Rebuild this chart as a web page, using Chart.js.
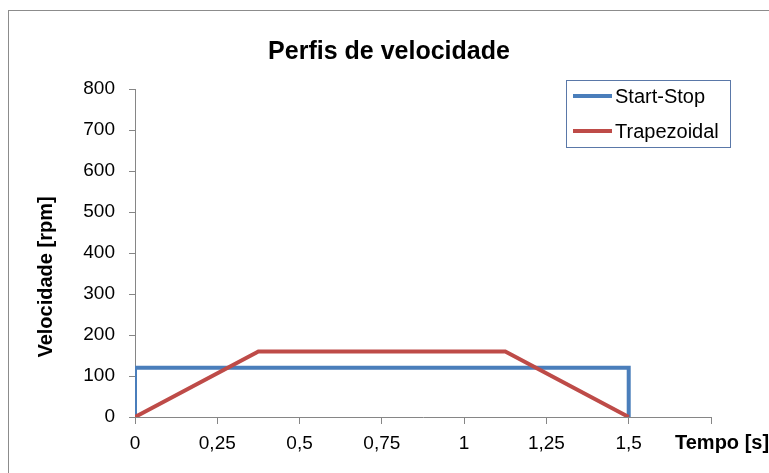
<!DOCTYPE html>
<html>
<head>
<meta charset="utf-8">
<script src="https://cdn.jsdelivr.net/npm/chart.js@4/dist/chart.umd.min.js"></script>
<style>
  html, body { margin: 0; padding: 0; background: #ffffff; }
  #wrap { width: 769px; height: 473px; position: relative; }
</style>
</head>
<body>
<div id="wrap"><canvas id="c" width="769" height="473"></canvas></div>
<script>
// Velocity profiles: time [s] vs speed [rpm]
const seriesNames = ['Start-Stop', 'Trapezoidal'];
const startStopTime = [0, 0, 1.5, 1.5];
const startStopSpeed = [0, 120, 120, 0];
const trapTime = [0, 0.375, 1.125, 1.5];
const trapSpeed = [0, 160, 160, 0];
const xTicks = [0, 0.25, 0.5, 0.75, 1, 1.25, 1.5, 1.75];
const yTicks = [0, 100, 200, 300, 400, 500, 600, 700, 800];

const FONT = "'Liberation Sans', Arial, sans-serif";
const AXIS = '#868686';
const BLUE = '#4A7EBB';
const RED = '#BE4B48';

function toPoints(xs, ys) { return xs.map((x, i) => ({ x: x, y: ys[i] })); }

// Outer frame of the chart
const framePlugin = {
  id: 'frame',
  beforeDraw(chart) {
    const ctx = chart.ctx;
    ctx.save();
    ctx.fillStyle = '#ffffff';
    ctx.fillRect(0, 0, chart.width, chart.height);
    ctx.strokeStyle = '#8c8c8c';
    ctx.lineWidth = 1;
    ctx.strokeRect(8.5, 10.5, chart.width + 20, chart.height + 20);
    ctx.restore();
  }
};

// Chart title, axis titles and boxed legend
const decorPlugin = {
  id: 'decor',
  afterDraw(chart) {
    const ctx = chart.ctx;
    ctx.save();
    ctx.fillStyle = '#000000';

    // chart title
    ctx.font = 'bold 25px ' + FONT;
    ctx.textAlign = 'center';
    ctx.textBaseline = 'alphabetic';
    ctx.fillText('Perfis de velocidade', 389, 59);

    ctx.font = 'bold 20px ' + FONT;
    // y-axis title
    ctx.save();
    ctx.translate(46, 277);
    ctx.rotate(-Math.PI / 2);
    ctx.textAlign = 'center';
    ctx.textBaseline = 'middle';
    ctx.fillText('Velocidade [rpm]', 0, 0);
    ctx.restore();
    // x-axis title
    ctx.textAlign = 'left';
    ctx.textBaseline = 'alphabetic';
    ctx.fillText('Tempo [s]', 675, 449);

    // legend box
    ctx.strokeStyle = '#5a78a8';
    ctx.lineWidth = 1;
    ctx.strokeRect(566.5, 80.5, 164, 67);
    ctx.font = '20px ' + FONT;
    ctx.textBaseline = 'middle';
    const rows = [96, 131];
    chart.data.datasets.forEach((ds, i) => {
      const y = rows[i];
      ctx.strokeStyle = ds.borderColor;
      ctx.lineWidth = 4;
      ctx.beginPath();
      ctx.moveTo(573, y);
      ctx.lineTo(612, y);
      ctx.stroke();
      ctx.fillStyle = '#000000';
      ctx.fillText(ds.label, 615, y + 1);
    });
    ctx.restore();
  }
};

new Chart(document.getElementById('c'), {
  type: 'line',
  data: {
    datasets: [
      {
        label: seriesNames[0],
        data: toPoints(startStopTime, startStopSpeed),
        borderColor: BLUE,
        backgroundColor: BLUE,
        borderWidth: 4,
        pointRadius: 0,
        tension: 0,
        order: 2
      },
      {
        label: seriesNames[1],
        data: toPoints(trapTime, trapSpeed),
        borderColor: RED,
        backgroundColor: RED,
        borderWidth: 4,
        pointRadius: 0,
        tension: 0,
        order: 1
      }
    ]
  },
  options: {
    responsive: false,
    animation: false,
    devicePixelRatio: 1,
    layout: { padding: { left: 0, right: 58, top: 89, bottom: 0 } },
    plugins: {
      legend: { display: false },
      tooltip: { enabled: false },
      title: { display: false }
    },
    scales: {
      x: {
        type: 'linear',
        min: 0,
        max: 1.75,
        afterBuildTicks(scale) { scale.ticks = xTicks.map(v => ({ value: v })); },
        afterFit(scale) { scale.height = 473 - 417; },
        grid: { drawOnChartArea: false, drawTicks: true, tickLength: 7, color: AXIS },
        border: { color: AXIS, width: 1 },
        ticks: {
          color: '#000000',
          font: { family: FONT, size: 19 },
          padding: 8,
          maxRotation: 0,
          autoSkip: false,
          callback(v) { return v >= 1.75 ? '' : String(v).replace('.', ','); }
        }
      },
      y: {
        type: 'linear',
        min: 0,
        max: 800,
        afterBuildTicks(scale) { scale.ticks = yTicks.map(v => ({ value: v })); },
        afterFit(scale) { scale.width = 135; },
        grid: { drawOnChartArea: false, drawTicks: true, tickLength: 6, color: AXIS },
        border: { color: AXIS, width: 1 },
        ticks: {
          color: '#000000',
          font: { family: FONT, size: 19 },
          padding: 14,
          autoSkip: false
        }
      }
    }
  },
  plugins: [framePlugin, decorPlugin]
});
</script>
</body>
</html>
